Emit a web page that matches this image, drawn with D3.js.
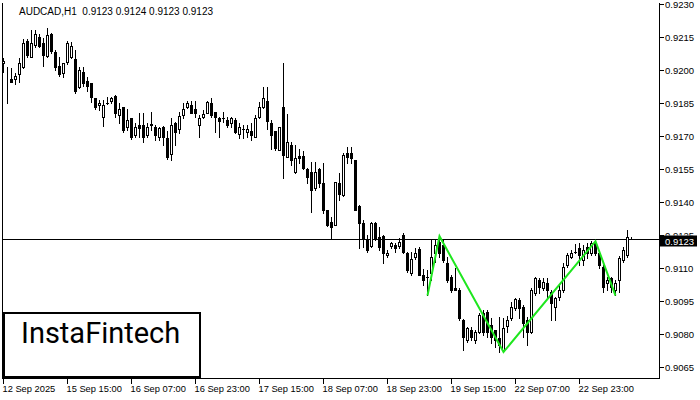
<!DOCTYPE html>
<html><head><meta charset="utf-8">
<script src="https://cdn.jsdelivr.net/npm/d3@7/dist/d3.min.js"></script>
<style>html,body{margin:0;padding:0;background:#fff;}svg{display:block;}</style>
</head><body><svg id="c" width="700" height="400"></svg>
<script>
const title = "AUDCAD,H1  0.9123 0.9124 0.9123 0.9123";
const open = [
0.92032,0.91950,0.91959,0.91959,0.91982,0.92014,0.92132,0.92059,0.92114,0.92150,
0.92123,0.92064,0.92164,0.92082,0.92018,0.91986,0.92036,0.92059,0.92050,0.91923,
0.91991,0.91950,0.91941,0.91873,0.91841,0.91786,0.91850,0.91859,0.91882,0.91795,
0.91832,0.91741,0.91782,0.91704,0.91750,0.91750,0.91704,0.91754,0.91741,0.91695,
0.91741,0.91691,0.91618,0.91759,0.91732,0.91795,0.91832,0.91841,0.91823,0.91750,
0.91786,0.91804,0.91850,0.91809,0.91782,0.91782,0.91773,0.91759,0.91773,0.91709,
0.91732,0.91718,0.91723,0.91695,0.91786,0.91832,0.91859,0.91759,0.91723,0.91636,
0.91832,0.91604,0.91659,0.91536,0.91609,0.91609,0.91550,0.91536,0.91464,0.91550,
0.91486,0.91364,0.91309,0.91295,0.91486,0.91432,0.91623,0.91623,0.91591,0.91382,
0.91305,0.91227,0.91200,0.91305,0.91241,0.91245,0.91159,0.91200,0.91205,0.91200,
0.91250,0.91168,0.91077,0.91150,0.91186,0.91068,0.91059,0.91077,0.91168,0.91218,
0.91205,0.91123,0.91059,0.91009,0.91000,0.90864,0.90773,0.90818,0.90773,0.90809,
0.90895,0.90900,0.90841,0.90818,0.90782,0.90727,0.90836,0.90873,0.90918,0.90955,
0.90923,0.90864,0.90809,0.90986,0.91045,0.91009,0.91032,0.90991,0.90923,0.90968,
0.91000,0.91114,0.91150,0.91173,0.91191,0.91136,0.91195,0.91168,0.91214,0.91168,
0.91105,0.91032,0.91054,0.91000,0.91045,0.91136,0.91159,0.91230];
const high = [
0.92054,0.92014,0.92009,0.91986,0.92054,0.92141,0.92141,0.92182,0.92182,0.92164,
0.92145,0.92191,0.92168,0.92091,0.92059,0.92032,0.92132,0.92127,0.92091,0.92014,
0.92014,0.91968,0.91941,0.91873,0.91864,0.91864,0.91877,0.91877,0.91886,0.91850,
0.91832,0.91823,0.91782,0.91759,0.91804,0.91804,0.91759,0.91809,0.91750,0.91741,
0.91745,0.91723,0.91782,0.91764,0.91809,0.91850,0.91859,0.91859,0.91859,0.91795,
0.91818,0.91859,0.91873,0.91809,0.91786,0.91809,0.91786,0.91786,0.91782,0.91759,
0.91750,0.91750,0.91759,0.91795,0.91854,0.91923,0.91923,0.91773,0.91723,0.91741,
0.92032,0.91800,0.91673,0.91659,0.91641,0.91632,0.91554,0.91582,0.91582,0.91554,
0.91577,0.91364,0.91332,0.91491,0.91532,0.91623,0.91650,0.91650,0.91591,0.91386,
0.91318,0.91250,0.91309,0.91309,0.91286,0.91250,0.91182,0.91218,0.91214,0.91236,
0.91259,0.91173,0.91173,0.91191,0.91195,0.91095,0.91091,0.91227,0.91227,0.91247,
0.91227,0.91150,0.91068,0.91100,0.91009,0.90868,0.90832,0.90832,0.90818,0.90895,
0.90909,0.90909,0.90873,0.90818,0.90877,0.90873,0.90882,0.90945,0.90964,0.90964,
0.90932,0.90877,0.91009,0.91059,0.91054,0.91054,0.91054,0.91000,0.90968,0.91023,
0.91123,0.91168,0.91182,0.91209,0.91214,0.91205,0.91214,0.91223,0.91224,0.91173,
0.91114,0.91059,0.91059,0.91045,0.91154,0.91195,0.91273,0.91240];
const low = [
0.91991,0.91850,0.91945,0.91936,0.91945,0.92009,0.92059,0.92059,0.92104,0.92104,
0.92018,0.92059,0.92077,0.92000,0.91973,0.91968,0.92027,0.92054,0.91895,0.91918,
0.91927,0.91904,0.91854,0.91823,0.91818,0.91745,0.91845,0.91850,0.91786,0.91759,
0.91718,0.91727,0.91686,0.91695,0.91695,0.91673,0.91695,0.91727,0.91682,0.91682,
0.91659,0.91595,0.91591,0.91659,0.91714,0.91782,0.91827,0.91804,0.91786,0.91695,
0.91782,0.91804,0.91786,0.91718,0.91695,0.91764,0.91741,0.91741,0.91714,0.91691,
0.91691,0.91695,0.91682,0.91695,0.91782,0.91827,0.91732,0.91641,0.91636,0.91636,
0.91509,0.91604,0.91568,0.91532,0.91577,0.91550,0.91486,0.91355,0.91454,0.91468,
0.91350,0.91291,0.91236,0.91295,0.91409,0.91427,0.91577,0.91577,0.91364,0.91191,
0.91195,0.91173,0.91195,0.91227,0.91182,0.91123,0.91150,0.91191,0.91173,0.91191,
0.91168,0.91082,0.91068,0.91141,0.91068,0.91023,0.90977,0.91045,0.91127,0.91150,
0.91127,0.91036,0.90991,0.91000,0.90864,0.90727,0.90764,0.90773,0.90759,0.90805,
0.90795,0.90786,0.90759,0.90741,0.90718,0.90718,0.90809,0.90864,0.90909,0.90873,
0.90786,0.90750,0.90805,0.90977,0.90986,0.91000,0.90964,0.90864,0.90864,0.90955,
0.90991,0.91105,0.91145,0.91168,0.91114,0.91114,0.91145,0.91159,0.91159,0.91100,
0.90991,0.91000,0.90991,0.90977,0.90991,0.91127,0.91150,0.91230];
const close = [
0.92041,0.91952,0.91945,0.91973,0.92032,0.92123,0.92068,0.92123,0.92164,0.92109,
0.92068,0.92159,0.92086,0.92014,0.91982,0.92032,0.92123,0.92109,0.91904,0.92000,
0.91941,0.91927,0.91877,0.91832,0.91850,0.91841,0.91848,0.91873,0.91804,0.91823,
0.91727,0.91773,0.91695,0.91741,0.91736,0.91695,0.91741,0.91752,0.91704,0.91736,
0.91695,0.91604,0.91750,0.91718,0.91791,0.91823,0.91850,0.91804,0.91804,0.91782,
0.91800,0.91854,0.91795,0.91786,0.91768,0.91780,0.91750,0.91782,0.91718,0.91741,
0.91730,0.91732,0.91704,0.91782,0.91832,0.91873,0.91768,0.91704,0.91645,0.91741,
0.91614,0.91673,0.91591,0.91600,0.91600,0.91554,0.91514,0.91454,0.91536,0.91486,
0.91364,0.91295,0.91286,0.91491,0.91436,0.91614,0.91604,0.91600,0.91364,0.91305,
0.91236,0.91182,0.91305,0.91236,0.91195,0.91168,0.91168,0.91214,0.91191,0.91218,
0.91173,0.91091,0.91141,0.91168,0.91068,0.91045,0.91057,0.91150,0.91205,0.91168,
0.91136,0.91045,0.91000,0.91002,0.90873,0.90786,0.90827,0.90786,0.90809,0.90886,
0.90809,0.90809,0.90786,0.90773,0.90750,0.90827,0.90864,0.90923,0.90959,0.90918,
0.90850,0.90809,0.91000,0.91054,0.91014,0.91036,0.91000,0.90941,0.90964,0.91000,
0.91105,0.91159,0.91168,0.91171,0.91159,0.91182,0.91168,0.91214,0.91168,0.91114,
0.91014,0.91045,0.91014,0.91032,0.91145,0.91182,0.91241,0.91230];
const timeLabels = ["12 Sep 2025","15 Sep 15:00","16 Sep 07:00","16 Sep 23:00","17 Sep 15:00","18 Sep 07:00","18 Sep 23:00","19 Sep 15:00","22 Sep 07:00","22 Sep 23:00"];
const timeLabelBars = [0,16,32,48,64,80,96,112,128,144];
const priceTicks = [0.9230,0.9215,0.9200,0.9185,0.9170,0.9155,0.9140,0.9125,0.9110,0.9095,0.9080,0.9065];
const currentPrice = 0.9123;
const patternBars = [106,109,125,148,153];
const patternPrices = [0.90977,0.91247,0.90720,0.91224,0.90977];

const svg = d3.select("#c");
const FONT = "'Liberation Sans', Arial, sans-serif";
svg.append("rect").attr("width",700).attr("height",400).attr("fill","#fff");

const x = d3.scaleLinear().domain([0, 157]).range([3.5, 631.5]);
const y = d3.scaleLinear().domain([0.9065, 0.9230]).range([367.5, 4.5]);
const py = v => Math.floor(y(v)) + 0.5;

const data = open.map((o,i)=>({i, o, h:high[i], l:low[i], c:close[i]}));

// frame
svg.append("line").attr("x1",659.5).attr("x2",659.5).attr("y1",3).attr("y2",379).attr("stroke","#000");
svg.append("line").attr("x1",2.5).attr("x2",2.5).attr("y1",3).attr("y2",379).attr("stroke","#000");
svg.append("line").attr("x1",2).attr("x2",660).attr("y1",378.5).attr("y2",378.5).attr("stroke","#000");

// current price line
svg.append("line").attr("x1",3).attr("x2",659).attr("y1",py(currentPrice)).attr("y2",py(currentPrice)).attr("stroke","#000");

// candles
const g = svg.append("g");
data.forEach(d=>{
  const cx = Math.floor(x(d.i)) + 0.5;
  g.append("line").attr("x1",cx).attr("x2",cx).attr("y1",py(d.h)-0.5).attr("y2",py(d.l)+0.5).attr("stroke","#000");
  const yo = py(d.o), yc = py(d.c);
  const top = Math.min(yo,yc), hgt = Math.abs(yo-yc);
  if (d.c >= d.o) {
    g.append("rect").attr("x",cx-1).attr("y",top).attr("width",2).attr("height",hgt)
      .attr("fill","#fff").attr("stroke","#000").attr("stroke-width",1);
  } else {
    g.append("rect").attr("x",cx-1.5).attr("y",top-0.5).attr("width",3).attr("height",hgt+1).attr("fill","#000");
  }
});

// pattern line
svg.append("path")
  .datum(patternBars.map((b,k)=>[b,patternPrices[k]]))
  .attr("d", d3.line().x(d=>x(d[0])).y(d=>y(d[1])))
  .attr("fill","none").attr("stroke","#1ee61e").attr("stroke-width",2).attr("stroke-linejoin","miter");

// right axis
const ra = svg.append("g").attr("font-family",FONT).attr("font-size",9.5);
priceTicks.forEach(p=>{
  const yy = py(p);
  ra.append("line").attr("x1",660).attr("x2",664).attr("y1",yy).attr("y2",yy).attr("stroke","#000");
  if (Math.abs(p - currentPrice) < 0.0005) {
    ra.append("text").attr("x",665).attr("y",yy+3.5).attr("fill","#000")
      .attr("clip-path","url(#lblclip)").text(p.toFixed(4));
  } else {
    ra.append("text").attr("x",665).attr("y",yy+3.5).attr("fill","#000").text(p.toFixed(4));
  }
});
const cy = py(currentPrice);
svg.append("clipPath").attr("id","lblclip").append("rect").attr("x",660).attr("y",0).attr("width",40).attr("height",cy-4);
ra.append("rect").attr("x",660).attr("y",cy-4).attr("width",37).attr("height",11).attr("fill","#000");
ra.append("text").attr("x",665).attr("y",cy+5).attr("fill","#fff").text(currentPrice.toFixed(4));

// bottom axis
const ba = svg.append("g").attr("font-family",FONT).attr("font-size",9.3);
timeLabels.forEach((t,k)=>{
  const xx = Math.floor(x(timeLabelBars[k]))+0.5;
  ba.append("line").attr("x1",xx).attr("x2",xx).attr("y1",379).attr("y2",384).attr("stroke","#000");
  ba.append("text").attr("x",xx-1).attr("y",392).attr("fill","#000").text(t);
});

// title
svg.append("text").attr("x",19).attr("y",15).attr("font-family",FONT).attr("font-size",10)
  .attr("xml:space","preserve").style("white-space","pre").attr("fill","#000").text(title);

// logo
svg.append("rect").attr("x",4).attr("y",313).attr("width",196).attr("height",64).attr("fill","#fff").attr("stroke","#000").attr("stroke-width",2);
svg.append("text").attr("x",21).attr("y",343).attr("font-family","Roboto, sans-serif").attr("font-weight",400).attr("font-size",29).attr("fill","#000").text("InstaFintech");
</script></body></html>
